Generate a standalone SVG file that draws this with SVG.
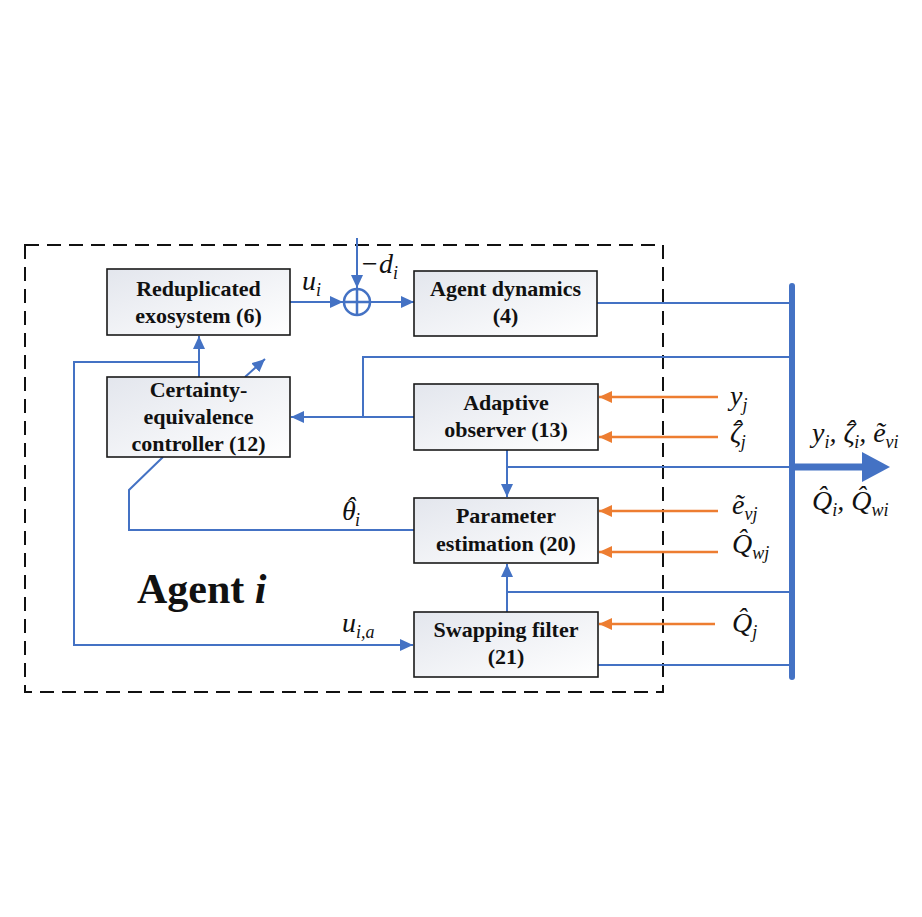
<svg xmlns="http://www.w3.org/2000/svg" width="922" height="917" viewBox="0 0 922 917">
<style>
.box{fill:url(#g);stroke:#1a1a1a;stroke-width:1.6}
.t{font-family:"Liberation Serif",serif;font-weight:bold;font-size:22px;text-anchor:middle;fill:#111}
.w{stroke:#4472C4;stroke-width:2;fill:none}
.o{stroke:#ED7D31;stroke-width:2.5;fill:none}
.m{font-family:"Liberation Serif",serif;font-style:italic;font-size:28px;fill:#111}
.s{font-size:18px}
</style>
<defs>
<linearGradient id="g" x1="0" y1="0" x2="1" y2="1">
<stop offset="0" stop-color="#e3e6ed"/>
<stop offset="1" stop-color="#ffffff"/>
</linearGradient>
<marker id="ab" markerUnits="userSpaceOnUse" markerWidth="14" markerHeight="12" refX="13" refY="6" orient="auto"><path d="M0,0 L13,6 L0,12 z" fill="#4472C4"/></marker>
<marker id="ao" markerUnits="userSpaceOnUse" markerWidth="14" markerHeight="12" refX="13" refY="6" orient="auto"><path d="M0,0 L13,6 L0,12 z" fill="#ED7D31"/></marker>
</defs>
<rect width="922" height="917" fill="#fff"/>
<rect x="25" y="245" width="638" height="447" fill="none" stroke="#111" stroke-width="2" stroke-dasharray="14,8"/>

<g id="connectors">
<path class="w" d="M290,302 H343" marker-end="url(#ab)"/>
<path class="w" d="M357,238 V288" marker-end="url(#ab)"/>
<path class="w" d="M371,302 H414" marker-end="url(#ab)"/>
<path class="w" d="M597,303 H792"/>
<path class="w" d="M792,357 H363 V417"/>
<path class="w" d="M414,417 H291" marker-end="url(#ab)"/>
<path class="w" d="M199,377 V336" marker-end="url(#ab)"/>
<path class="w" d="M199,362 H74 V645 H413" marker-end="url(#ab)"/>
<path class="w" d="M245,377 L265,359" marker-end="url(#ab)"/>
<path class="w" d="M163,457 L129,490 V530 H414"/>
<path class="w" d="M507,450 V497" marker-end="url(#ab)"/>
<path class="w" d="M507,467 H792"/>
<path class="w" d="M507,612 V564" marker-end="url(#ab)"/>
<path class="w" d="M507,592 H792"/>
<path class="w" d="M598,665 H792"/>
<path d="M792,286 V677" stroke="#4472C4" stroke-width="6" stroke-linecap="round" fill="none"/>
<path d="M792,467 H864" stroke="#4472C4" stroke-width="7" fill="none"/>
<path d="M862,452 L890,467 L862,482 z" fill="#4472C4"/>
<path class="o" d="M718,397 H599" marker-end="url(#ao)"/>
<path class="o" d="M718,437 H599" marker-end="url(#ao)"/>
<path class="o" d="M718,511 H599" marker-end="url(#ao)"/>
<path class="o" d="M718,552 H599" marker-end="url(#ao)"/>
<path class="o" d="M715,624 H599" marker-end="url(#ao)"/>
</g>

<g id="sum">
<circle cx="357" cy="302" r="13" fill="#fff" stroke="#4472C4" stroke-width="2.5"/>
<path d="M344,302 H370 M357,289 V315" stroke="#4472C4" stroke-width="2.5"/>
</g>

<g id="reduplicated">
<rect class="box" x="107" y="269" width="183" height="66"/>
<text class="t" x="198.5" y="296">Reduplicated</text>
<text class="t" x="198.5" y="323">exosystem (6)</text>
</g>
<g id="agent-dynamics">
<rect class="box" x="414" y="271" width="183" height="65"/>
<text class="t" x="505.5" y="296">Agent dynamics</text>
<text class="t" x="505.5" y="323">(4)</text>
</g>
<g id="certainty">
<rect class="box" x="107" y="377" width="183" height="80"/>
<text class="t" x="198.5" y="397">Certainty-</text>
<text class="t" x="198.5" y="424">equivalence</text>
<text class="t" x="198.5" y="451">controller (12)</text>
</g>
<g id="adaptive-observer">
<rect class="box" x="414" y="384" width="184" height="66"/>
<text class="t" x="506" y="410">Adaptive</text>
<text class="t" x="506" y="437">observer (13)</text>
</g>
<g id="parameter-estimation">
<rect class="box" x="414" y="498" width="184" height="65"/>
<text class="t" x="506" y="523">Parameter</text>
<text class="t" x="506" y="551">estimation (20)</text>
</g>
<g id="swapping-filter">
<rect class="box" x="414" y="612" width="184" height="65"/>
<text class="t" x="506" y="637">Swapping filter</text>
<text class="t" x="506" y="664">(21)</text>
</g>

<g id="labels">
<text class="m" x="302" y="290">u<tspan class="s" dy="6">i</tspan></text>
<text class="m" x="360" y="273">−d<tspan class="s" dy="6">i</tspan></text>
<text class="m" x="342" y="520">θ<tspan dx="-10" dy="-4">ˆ</tspan><tspan class="s" dx="0" dy="10">i</tspan></text>
<text class="m" x="342" y="632">u<tspan class="s" dy="6">i,a</tspan></text>
<text class="m" x="730" y="405">y<tspan class="s" dy="6">j</tspan></text>
<text class="m" x="730" y="442">ζ<tspan dx="-9" dy="-3">ˆ</tspan><tspan class="s" dx="-1" dy="9">j</tspan></text>
<text class="m" x="732" y="514">ẽ<tspan class="s" dy="6">vj</tspan></text>
<text class="m" x="732" y="553">Q&#770;<tspan class="s" dy="6">wj</tspan></text>
<text class="m" x="732" y="632">Q&#770;<tspan class="s" dy="6">j</tspan></text>
<text class="m" x="812" y="442">y<tspan class="s" dy="6">i</tspan><tspan dy="-6">, ζ</tspan><tspan dx="-9" dy="-3">ˆ</tspan><tspan class="s" dx="-1" dy="9">i</tspan><tspan dy="-6">, ẽ</tspan><tspan class="s" dy="6">vi</tspan></text>
<text class="m" x="812" y="510">Q&#770;<tspan class="s" dy="6">i</tspan><tspan dy="-6">, Q&#770;</tspan><tspan class="s" dy="6">wi</tspan></text>
<text x="137" y="603" font-family="Liberation Serif, serif" font-weight="bold" font-size="42" fill="#111">Agent <tspan font-style="italic">i</tspan></text>
</g>
</svg>
